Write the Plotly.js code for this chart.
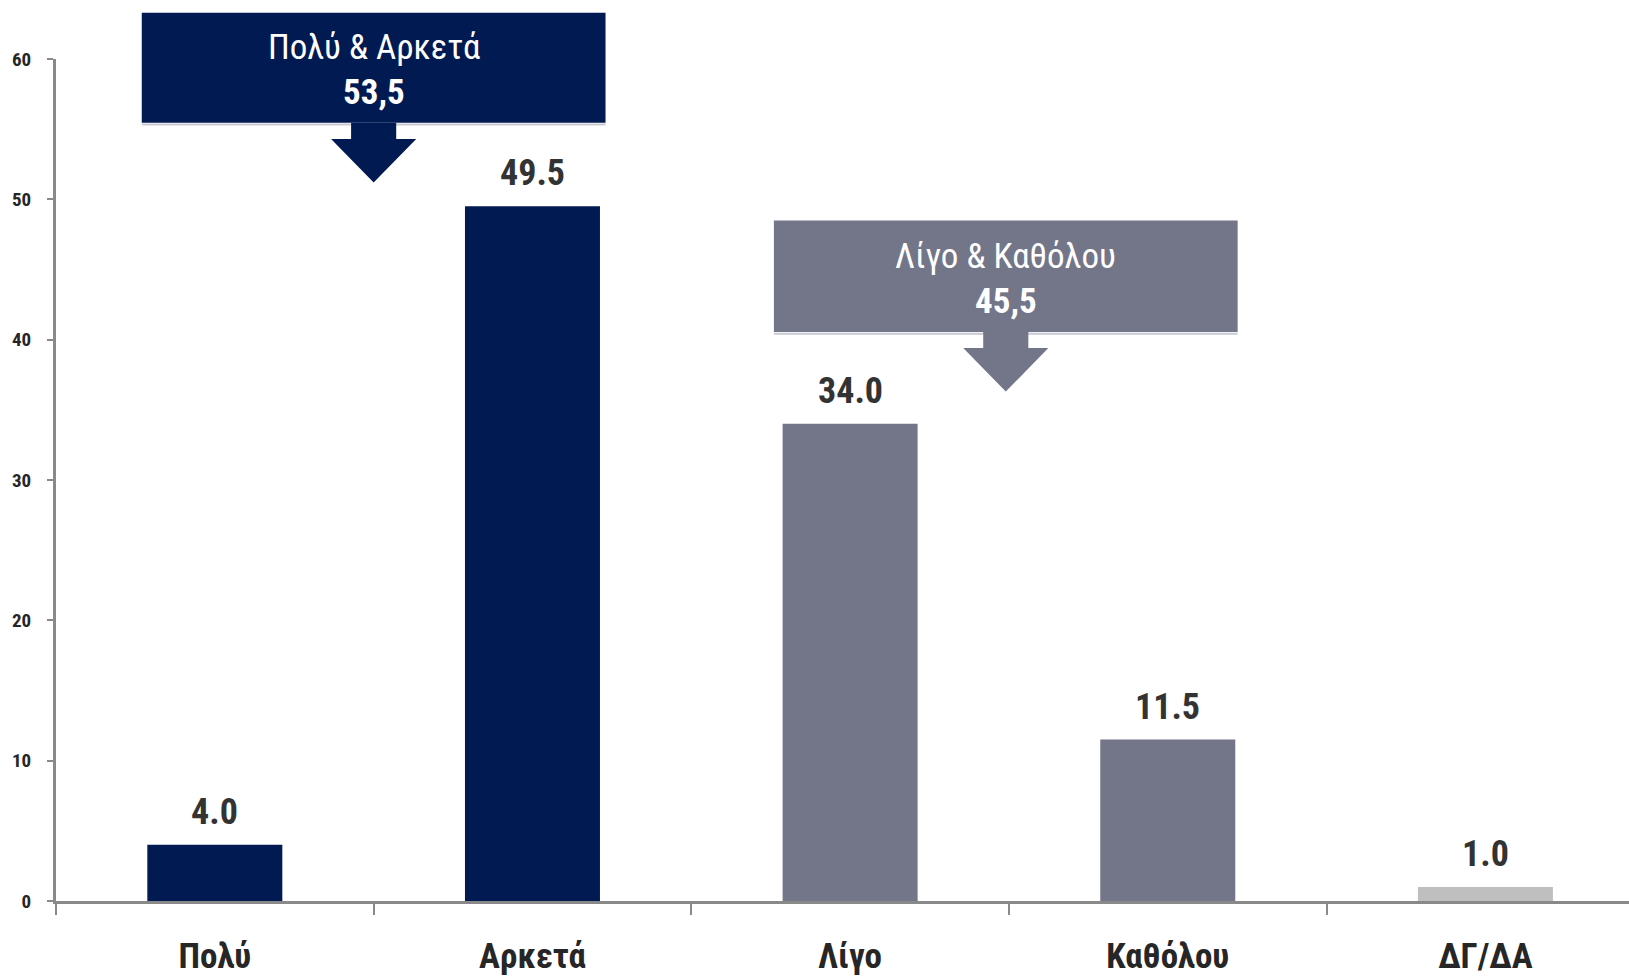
<!DOCTYPE html>
<html>
<head>
<meta charset="utf-8">
<script src="https://cdn.plot.ly/plotly-3.0.1.min.js"></script>
<style>html,body{margin:0;padding:0;background:#fff;}#chart{width:1629px;height:977px;}</style>
</head>
<body>
<div id="chart"></div>
<script>
// ---- data ----
const categories = ["Πολύ", "Αρκετά", "Λίγο", "Καθόλου", "ΔΓ/ΔΑ"];
const values = [4.0, 49.5, 34.0, 11.5, 1.0];
const barColors = ["#011A51", "#011A51", "#737589", "#737589", "#BFBFBF"];
const yTicks = [0, 10, 20, 30, 40, 50, 60];
const groupLabels = ["Πολύ & Αρκετά", "Λίγο & Καθόλου"];
const groupMembers = [[0, 1], [2, 3]];
const groupColors = ["#011A51", "#737589"];

// ---- layout constants ----
const FONT = "'Liberation Sans Narrow', 'Arial Narrow', 'Roboto Condensed', Roboto, sans-serif";
const W = 1629, H = 977;
const M = {l: 56, r: 0, t: 59, b: 76};
const XR = [-0.5, 4.452];
const YR = [0, 60];
const xp = x => (x - XR[0]) / (XR[1] - XR[0]);
const yp = y => (y - YR[0]) / (YR[1] - YR[0]);

// callout geometry (in axis units), per group
const callouts = [
  {dx: 0.0, top: 63.3, bottom: 55.45, headStart: 54.3, tip: 51.2, line1: 60.8, line2: 57.6},
  {dx: -0.01, top: 48.5, bottom: 40.55, headStart: 39.4, tip: 36.3, line1: 45.9, line2: 42.7}
];
const boxHalf = 0.73, shaftHalf = 0.071, headHalf = 0.134;

const fmtComma = v => v.toFixed(1).replace('.', ',');

const shapes = [];
const annotations = [];

groupMembers.forEach((mem, i) => {
  const c = callouts[i];
  const cx = (mem[0] + mem[1]) / 2 + c.dx;
  const sum = mem.reduce((s, k) => s + values[k], 0);
  const col = groupColors[i];
  // shadow line
  shapes.push({type: 'line', xref: 'paper', yref: 'paper',
    x0: xp(cx - boxHalf), x1: xp(cx + boxHalf), y0: yp(c.bottom) - 0.002, y1: yp(c.bottom) - 0.002,
    line: {color: '#C9CAD3', width: 2}, layer: 'above'});
  // box
  shapes.push({type: 'rect', xref: 'paper', yref: 'paper',
    x0: xp(cx - boxHalf), x1: xp(cx + boxHalf), y0: yp(c.bottom), y1: yp(c.top),
    fillcolor: col, line: {width: 0}, layer: 'above'});
  // arrow
  const p = [
    [cx - shaftHalf, c.bottom], [cx - shaftHalf, c.headStart], [cx - headHalf, c.headStart],
    [cx, c.tip], [cx + headHalf, c.headStart], [cx + shaftHalf, c.headStart], [cx + shaftHalf, c.bottom]
  ];
  const path = p.map((q, k) => (k ? 'L' : 'M') + xp(q[0]).toFixed(5) + ',' + yp(q[1]).toFixed(5)).join(' ') + ' Z';
  shapes.push({type: 'path', xref: 'paper', yref: 'paper', path: path,
    fillcolor: col, line: {width: 0}, layer: 'above'});
  annotations.push({xref: 'paper', yref: 'paper', x: xp(cx), y: yp(c.line1),
    text: groupLabels[i], showarrow: false, xanchor: 'center', yanchor: 'middle',
    font: {family: FONT, size: 35, color: '#FFFFFF'}});
  annotations.push({xref: 'paper', yref: 'paper', x: xp(cx), y: yp(c.line2),
    text: '<b>' + fmtComma(sum) + '</b>', showarrow: false, xanchor: 'center', yanchor: 'middle',
    font: {family: FONT, size: 35, color: '#FFFFFF'}});
});

// value labels above bars
categories.forEach((cat, i) => {
  annotations.push({x: cat, y: values[i], xref: 'x', yref: 'y',
    text: '<b>' + values[i].toFixed(1) + '</b>', showarrow: false,
    xanchor: 'center', yanchor: 'bottom', yshift: 10,
    font: {family: FONT, size: 36, color: '#333333'}});
});

const trace = {
  type: 'bar',
  x: categories,
  y: values,
  width: 0.425,
  marker: {color: barColors, line: {width: 0}},
  hoverinfo: 'none'
};

const layout = {
  width: W, height: H,
  margin: M,
  paper_bgcolor: '#FFFFFF',
  plot_bgcolor: '#FFFFFF',
  showlegend: false,
  font: {family: FONT, color: '#262626'},
  xaxis: {
    type: 'category',
    range: XR,
    showgrid: false, zeroline: false,
    showline: true, linecolor: '#898989', linewidth: 3,
    ticks: 'outside', tickson: 'boundaries', ticklen: 11, tickwidth: 2, tickcolor: '#898989',
    tickfont: {family: FONT, size: 35, color: '#262626', weight: 'bold'},
    ticklabelstandoff: 22,
    fixedrange: true
  },
  yaxis: {
    range: YR,
    tickvals: yTicks,
    ticktext: yTicks.map(String),
    showgrid: false, zeroline: false,
    showline: true, linecolor: '#898989', linewidth: 3,
    ticks: 'outside', ticklen: 6, tickwidth: 2, tickcolor: '#898989',
    tickfont: {family: FONT, size: 19, color: '#262626', weight: 'bold'},
    ticklabelstandoff: 12,
    fixedrange: true
  },
  shapes: shapes,
  annotations: annotations
};

Plotly.newPlot('chart', [trace], layout, {staticPlot: true, displayModeBar: false});
</script>
</body>
</html>
